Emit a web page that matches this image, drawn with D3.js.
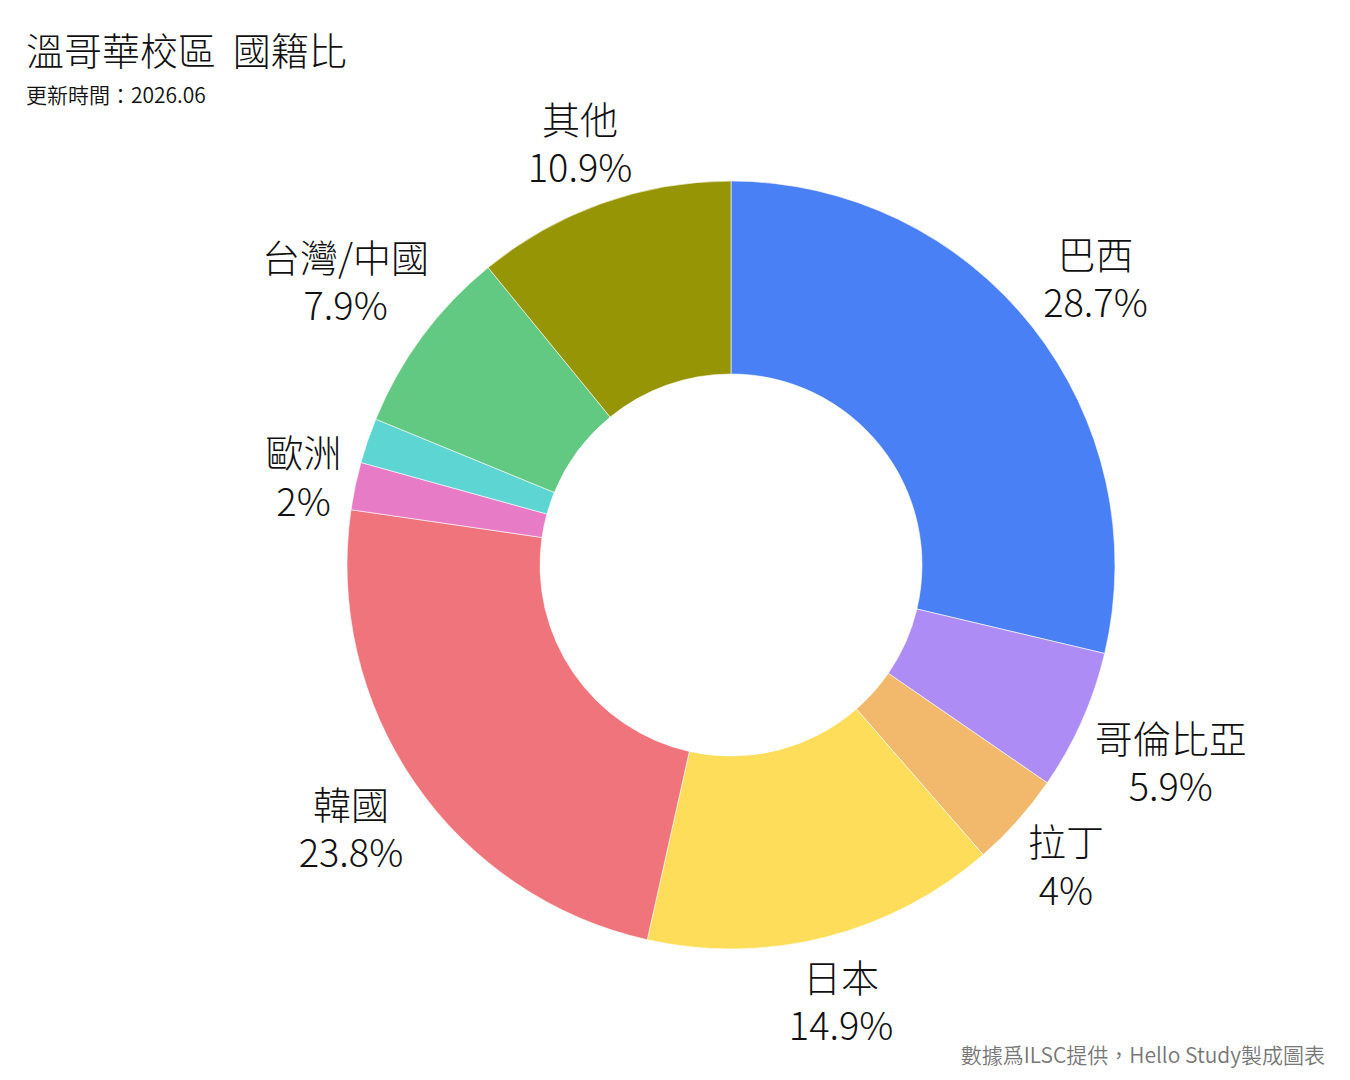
<!DOCTYPE html>
<html>
<head>
<meta charset="utf-8">
<script src="https://cdn.jsdelivr.net/npm/d3@7"></script>
<style>
  body { margin: 0; background: #fff; }
  svg text { font-family: "Noto Sans CJK TC", "Noto Sans", sans-serif; }
</style>
</head>
<body>
<svg id="chart"></svg>
<script>
// data
const categories = ["巴西", "哥倫比亞", "拉丁", "日本", "韓國", "歐洲", "未標示", "台灣/中國", "其他"];
const shares = [28.7, 5.9, 4, 14.9, 23.8, 2, 1.9, 7.9, 10.9];
const showLabel = [true, true, true, true, true, true, false, true, true];
const colors = ["#4a80f6", "#ae8cf5", "#f2b96c", "#fedd5a", "#ef747b", "#e87bc6", "#5cd5d3", "#62c982", "#969505"];

const width = 1350, height = 1080;
const cx = 731, cy = 565;
const outerR = 384, innerR = 191;
const labelGap = 14; // space between the ring and the nearest edge of a label

const svg = d3.select("#chart")
    .attr("width", width)
    .attr("height", height);

const data = categories.map((c, i) => ({ name: c, value: shares[i], color: colors[i], label: showLabel[i] }));

const pie = d3.pie()
    .value(d => d.value)
    .sort(null);

const arc = d3.arc()
    .innerRadius(innerR)
    .outerRadius(outerR);

const g = svg.append("g")
    .attr("transform", `translate(${cx},${cy})`);

const arcs = pie(data);

g.selectAll("path")
    .data(arcs)
    .join("path")
    .attr("d", arc)
    .attr("fill", d => d.data.color)
    .attr("stroke", "#fff")
    .attr("stroke-width", 0.6);

// slice labels: name on top, percentage below
const labels = g.selectAll(".slice-label")
    .data(arcs.filter(d => d.data.label))
    .join("text")
    .attr("class", "slice-label")
    .attr("text-anchor", "middle")
    .style("font-size", "38px")
    .style("font-weight", 300)
    .attr("fill", "#111");

labels.append("tspan")
    .attr("x", 0)
    .attr("dy", "-0.28em")
    .text(d => d.data.name);

labels.append("tspan")
    .attr("x", 0)
    .attr("dy", "1.27em")
    .text(d => d.data.value + "%");

// push each label outward along its slice's mid-angle until its box clears the ring
labels.each(function(d) {
  const box = this.getBBox();
  const hw = box.width / 2, hh = box.height / 2 - 3;
  const bx = box.x + box.width / 2, by = box.y + box.height / 2;
  const a = (d.startAngle + d.endAngle) / 2;
  const ux = Math.sin(a), uy = -Math.cos(a);
  const ext = Math.min(Math.abs(ux) > 1e-6 ? hw / Math.abs(ux) : Infinity,
                       Math.abs(uy) > 1e-6 ? hh / Math.abs(uy) : Infinity);
  const dist = outerR + labelGap + ext;
  d3.select(this).attr("transform", `translate(${ux * dist - bx},${uy * dist - by})`);
});

// titles
svg.append("text")
    .attr("x", 26)
    .attr("y", 65)
    .style("font-size", "38px")
    .style("font-weight", 300)
    .style("white-space", "pre")
    .attr("fill", "#111")
    .text("溫哥華校區  國籍比");

svg.append("text")
    .attr("x", 26)
    .attr("y", 103)
    .style("font-size", "21px")
    .style("font-weight", 350)
    .attr("fill", "#111")
    .text("更新時間：2026.06");

svg.append("text")
    .attr("x", 1325)
    .attr("y", 1063)
    .attr("text-anchor", "end")
    .style("font-size", "21px")
    .style("font-weight", 350)
    .attr("fill", "#777")
    .text("數據爲ILSC提供，Hello Study製成圖表");
</script>
</body>
</html>
